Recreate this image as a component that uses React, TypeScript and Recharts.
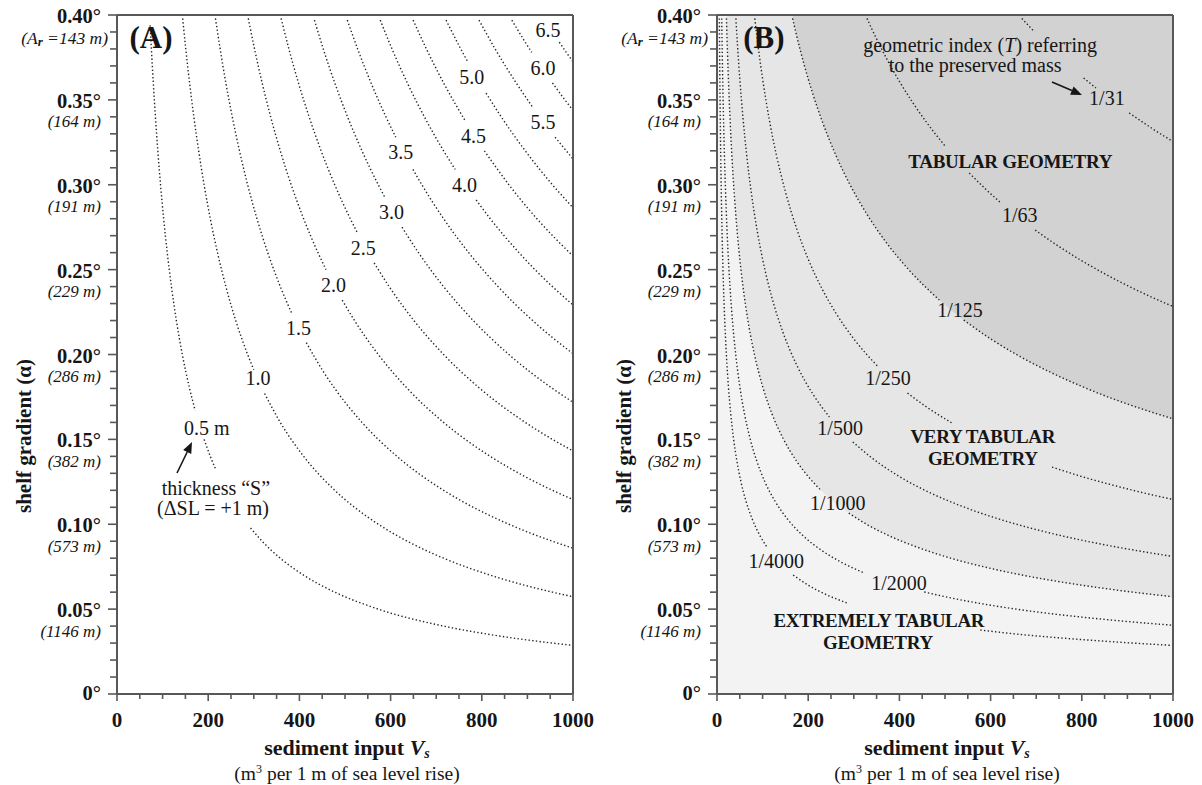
import React from "react";
import {
  Area,
  CartesianGrid,
  ComposedChart,
  Line,
  ReferenceLine,
  Scatter,
  XAxis,
  YAxis,
} from "recharts";

type Pt = [number, number] | null;

const SERIF = "'Liberation Serif', 'DejaVu Serif', serif";
const INK = "#161616";
const AXIS = "#585858";
const DOTS = "#262626";

// ---- axes ----
const xTicks = [
  0, 50, 100, 150, 200, 250, 300, 350, 400, 450, 500, 550, 600, 650, 700, 750,
  800, 850, 900, 950, 1000,
];
const xLabelled = [0, 200, 400, 600, 800, 1000];
const yTicks = [
  0, 0.01, 0.02, 0.03, 0.04, 0.05, 0.06, 0.07, 0.08, 0.09, 0.1, 0.11, 0.12,
  0.13, 0.14, 0.15, 0.16, 0.17, 0.18, 0.19, 0.2, 0.21, 0.22, 0.23, 0.24, 0.25,
  0.26, 0.27, 0.28, 0.29, 0.3, 0.31, 0.32, 0.33, 0.34, 0.35, 0.36, 0.37, 0.38,
  0.39, 0.4,
];
const yLabelled = [0, 0.05, 0.1, 0.15, 0.2, 0.25, 0.3, 0.35, 0.4];
const yLabels = ["0°", "0.05°", "0.10°", "0.15°", "0.20°", "0.25°", "0.30°", "0.35°", "0.40°"];
const yMetres = ["", "(1146 m)", "(573 m)", "(382 m)", "(286 m)", "(229 m)", "(191 m)", "(164 m)", "Ar"];

// ---- (A) thickness S contours: [Vs, alpha], null = gap for a label ----
const s05: Pt[] = [[72.7, 0.394], [75.4, 0.38], [79.6, 0.36], [84.3, 0.34], [89.5, 0.32], [95.5, 0.3], [102.3, 0.28], [110.2, 0.26], [119.4, 0.24], [130.2, 0.22], [143.2, 0.2], [159.2, 0.18], [171.5, 0.167], null, [191.0, 0.15], [204.6, 0.14], [217.0, 0.132], null, [292.9, 0.0978], [318.3, 0.09], [358.1, 0.08], [409.3, 0.07], [477.5, 0.06], [573.0, 0.05], [716.2, 0.04], [818.5, 0.035], [955.0, 0.03], [1000, 0.02865]];
const s10: Pt[] = [[144.0, 0.398], [150.8, 0.38], [159.2, 0.36], [168.5, 0.34], [179.1, 0.32], [191.0, 0.3], [204.6, 0.28], [220.4, 0.26], [238.7, 0.24], [260.4, 0.22], [286.5, 0.2], [300.0, 0.191], null, [323.7, 0.177], [358.1, 0.16], [409.3, 0.14], [477.5, 0.12], [520.9, 0.11], [573.0, 0.1], [636.6, 0.09], [716.2, 0.08], [818.5, 0.07], [954.9, 0.06], [1000, 0.0573]];
const s15: Pt[] = [[215.9, 0.398], [226.2, 0.38], [238.7, 0.36], [252.8, 0.34], [268.6, 0.32], [286.5, 0.3], [306.9, 0.28], [330.6, 0.26], [358.1, 0.24], [383.7, 0.224], null, [415.2, 0.207], [452.3, 0.19], [477.5, 0.18], [537.2, 0.16], [613.9, 0.14], [716.2, 0.12], [781.3, 0.11], [859.4, 0.1], [954.9, 0.09], [1000, 0.0859]];
const s20: Pt[] = [[287.9, 0.398], [301.6, 0.38], [318.3, 0.36], [337.0, 0.34], [358.1, 0.32], [382.0, 0.3], [409.3, 0.28], [440.7, 0.26], [458.4, 0.25], null, [493.9, 0.232], [520.9, 0.22], [573.0, 0.2], [636.6, 0.18], [716.2, 0.16], [818.5, 0.14], [881.5, 0.13], [954.9, 0.12], [1000, 0.1146]];
const s25: Pt[] = [[359.9, 0.398], [377.0, 0.38], [397.9, 0.36], [421.3, 0.34], [447.6, 0.32], [477.5, 0.3], [511.6, 0.28], [526.6, 0.272], null, [563.9, 0.254], [596.8, 0.24], [651.1, 0.22], [716.2, 0.2], [795.8, 0.18], [895.3, 0.16], [954.9, 0.15], [1000, 0.1432]];
const s30: Pt[] = [[433.0, 0.397], [452.3, 0.38], [477.5, 0.36], [505.6, 0.34], [537.2, 0.32], [573.0, 0.3], [586.6, 0.293], null, [625.0, 0.275], [661.1, 0.26], [716.2, 0.24], [781.3, 0.22], [859.4, 0.2], [954.9, 0.18], [1000, 0.1719]];
const s35: Pt[] = [[505.1, 0.397], [527.7, 0.38], [557.1, 0.36], [589.8, 0.34], [611.4, 0.328], null, [649.0, 0.309], [668.5, 0.3], [716.2, 0.28], [771.3, 0.26], [835.6, 0.24], [911.5, 0.22], [954.9, 0.21], [1000, 0.2005]];
const s40: Pt[] = [[577.3, 0.397], [603.1, 0.38], [636.6, 0.36], [674.1, 0.34], [716.2, 0.32], [741.7, 0.309], null, [787.6, 0.291], [818.5, 0.28], [881.5, 0.26], [954.9, 0.24], [1000, 0.2292]];
const s45: Pt[] = [[649.4, 0.397], [678.5, 0.38], [716.2, 0.36], [762.8, 0.338], null, [805.7, 0.32], [859.4, 0.3], [920.8, 0.28], [1000, 0.258]];
const s50: Pt[] = [[721.6, 0.397], [753.9, 0.38], [768.0, 0.373], null, [809.3, 0.354], [842.6, 0.34], [895.3, 0.32], [954.9, 0.3], [1000, 0.2865]];
const s55: Pt[] = [[793.8, 0.397], [829.3, 0.38], [875.4, 0.36], [910.8, 0.346], null, [960.7, 0.328], [1000, 0.3152]];
const s60: Pt[] = [[865.9, 0.397], [892.9, 0.385], [909.5, 0.378], null, [955.0, 0.36], [982.2, 0.35], [1000, 0.3438]];
const s65: Pt[] = [[969.9, 0.384], [985.3, 0.378], [1000, 0.3725]];
const thicknessCurves = [s05, s10, s15, s20, s25, s30, s35, s40, s45, s50, s55, s60, s65];

const thicknessLabels = [
  { x: 197, y: 0.1567, text: "0.5 m" },
  { x: 309, y: 0.1862, text: "1.0" },
  { x: 398, y: 0.2156, text: "1.5" },
  { x: 475, y: 0.241, text: "2.0" },
  { x: 540, y: 0.263, text: "2.5" },
  { x: 602, y: 0.284, text: "3.0" },
  { x: 622, y: 0.319, text: "3.5" },
  { x: 762, y: 0.3, text: "4.0" },
  { x: 782, y: 0.329, text: "4.5" },
  { x: 778, y: 0.3635, text: "5.0" },
  { x: 934, y: 0.337, text: "5.5" },
  { x: 934, y: 0.369, text: "6.0" },
  { x: 945, y: 0.391, text: "6.5" },
];
const thicknessNote = [
  { x: 217, y: 0.1214, text: "thickness “S”" },
  { x: 210.5, y: 0.1096, text: "(ΔSL = +1 m)" },
];
const thicknessArrow = [{ x: 131.6, y: 0.1302 }, { x: 164.5, y: 0.1484 }];
const tagA = [{ x: 74.6, y: 0.387, text: "(A)" }];

// ---- (B) geometric index T contours ----
const t31: Pt[] = [[668.6, 0.398], [682, 0.3941], [696.3, 0.39], null, [804, 0.3629], [831, 0.357], null, [904, 0.3423], [950, 0.3339], [1000, 0.3254]];
const t63: Pt[] = [[329, 0.398], [340, 0.3915], [360, 0.3805], [380, 0.3703], [400, 0.3609], [430, 0.3481], [460, 0.3366], [502, 0.3222], null, [553.2, 0.3069], [590, 0.2972], [623, 0.2892], null, [697.7, 0.2733], [750, 0.2636], [800, 0.2552], [850, 0.2476], [900, 0.2406], [950, 0.2342], [1000, 0.2283]];
const t125: Pt[] = [[165.8, 0.398], [175, 0.3874], [190, 0.3718], [210, 0.3536], [230, 0.3379], [260, 0.3178], [290, 0.3009], [330, 0.2821], [370, 0.2664], [420, 0.2501], [487.5, 0.2321], null, [541.1, 0.2203], [600, 0.2092], [660, 0.1995], [730, 0.1897], [800, 0.1812], [870, 0.1737], [940, 0.1672], [1000, 0.1621]];
const t250: Pt[] = [[82.9, 0.398], [90, 0.382], [100, 0.3624], [115, 0.3379], [130, 0.3178], [150, 0.2959], [175, 0.2739], [200, 0.2562], [230, 0.2389], [260, 0.2247], [300, 0.2092], [354, 0.1926], null, [417.7, 0.1773], [460, 0.169], [515.5, 0.1596], null, [734.6, 0.1337], [800, 0.1281], [870, 0.1229], [940, 0.1182], [1000, 0.1146]];
const t500: Pt[] = [[41.4, 0.398], [45, 0.382], [50, 0.3624], [57, 0.3394], [65, 0.3178], [75, 0.2959], [88, 0.2731], [100, 0.2562], [120, 0.2339], [145, 0.2128], [175, 0.1937], [210, 0.1768], [246.5, 0.1632], null, [297.7, 0.1485], [340, 0.139], [400, 0.1281], [470, 0.1182], [550, 0.1093], [640, 0.1013], [740, 0.0942], [860, 0.0874], [1000, 0.081]];
const t1000: Pt[] = [[20.7, 0.398], [23, 0.3778], [26, 0.3553], [30, 0.3308], [35, 0.3063], [41, 0.283], [48, 0.2615], [57, 0.24], [68, 0.2197], [82, 0.2001], [100, 0.1812], [120, 0.1654], [145, 0.1505], [175, 0.137], [200, 0.1281], [227.2, 0.1202], null, [288.9, 0.1066], [330, 0.0997], [380, 0.0929], [440, 0.0864], [510, 0.0802], [600, 0.074], [700, 0.0685], [800, 0.0641], [900, 0.0604], [1000, 0.0573]];
const t2000: Pt[] = [[10.36, 0.398], [11.5, 0.3778], [13, 0.3553], [15, 0.3308], [17.5, 0.3063], [20.5, 0.283], [24, 0.2615], [28.5, 0.24], [34, 0.2197], [41, 0.2001], [50, 0.1812], [60, 0.1654], [72, 0.151], [87, 0.1374], [105, 0.125], [127, 0.1137], [155, 0.1029], [190, 0.0929], [230, 0.0845], [275, 0.0773], [322.9, 0.0713], null, [454.5, 0.0601], [520, 0.0562], [600, 0.0523], [700, 0.0484], [800, 0.0453], [900, 0.0427], [1000, 0.0405]];
const t4000: Pt[] = [[5.18, 0.398], [5.75, 0.3778], [6.5, 0.3553], [7.5, 0.3308], [8.75, 0.3063], [10.25, 0.283], [12, 0.2615], [14.25, 0.24], [17, 0.2197], [20.5, 0.2001], [25, 0.1812], [30, 0.1654], [36, 0.151], [43.5, 0.1374], [52.5, 0.125], [63.5, 0.1137], [77.5, 0.1029], [95, 0.0929], [109.4, 0.0866], null, [167, 0.0701], [200, 0.0641], [240, 0.0585], [285.6, 0.0536], null, [577.4, 0.0377], [650, 0.0355], [750, 0.0331], [850, 0.0311], [1000, 0.0286]];
const indexCurves = [t31, t63, t125, t250, t500, t1000, t2000, t4000];

const indexLabels = [
  { x: 855, y: 0.351, text: "1/31" },
  { x: 664, y: 0.2822, text: "1/63" },
  { x: 533, y: 0.2262, text: "1/125" },
  { x: 375, y: 0.186, text: "1/250" },
  { x: 270, y: 0.1567, text: "1/500" },
  { x: 265, y: 0.1125, text: "1/1000" },
  { x: 399, y: 0.0654, text: "1/2000" },
  { x: 130, y: 0.0783, text: "1/4000" },
];
const indexNote = [
  { x: 577, y: 0.3823, text: "geometric index (*T*) referring" },
  { x: 566, y: 0.3706, text: "to the preserved mass" },
];
const geometryZones = [
  { x: 643, y: 0.314, text: "TABULAR GEOMETRY" },
  { x: 583, y: 0.152, text: "VERY TABULAR" },
  { x: 583, y: 0.139, text: "GEOMETRY" },
  { x: 355, y: 0.0436, text: "EXTREMELY TABULAR" },
  { x: 353, y: 0.0306, text: "GEOMETRY" },
];
const indexArrow = [{ x: 734.6, y: 0.3605 }, { x: 800.4, y: 0.3529 }];
const tagB = [{ x: 103, y: 0.387, text: "(B)" }];

// ---- helpers ----
const rows = (pts: Pt[]) =>
  pts.map((p, i) =>
    p ? { x: p[0], y: p[1] } : { x: (pts[i - 1] as [number, number])[0], y: null }
  );
const solid = (pts: Pt[]) =>
  pts.filter((p): p is [number, number] => p !== null).map((p) => ({ x: p[0], y: p[1] }));

const richText = (s: string) =>
  s.split("*").map((part, i) =>
    i % 2 ? (
      <tspan key={i} fontStyle="italic">{part}</tspan>
    ) : (
      <tspan key={i}>{part}</tspan>
    )
  );

const textShape = (size: number, weight: string = "normal", spacing = 0) => (props: any) => (
  <text
    x={props.cx}
    y={props.cy}
    textAnchor="middle"
    dominantBaseline="central"
    fontFamily={SERIF}
    fontSize={size}
    fontWeight={weight}
    letterSpacing={spacing}
    fill={INK}
  >
    {richText(props.payload.text)}
  </text>
);

const arrowShape = (p: any) => {
  const { x1, y1, x2, y2 } = p;
  const dx = x2 - x1;
  const dy = y2 - y1;
  const len = Math.hypot(dx, dy) || 1;
  const ux = dx / len;
  const uy = dy / len;
  const hl = 11;
  const hw = 4.5;
  const bx = x2 - ux * hl;
  const by = y2 - uy * hl;
  return (
    <g>
      <line x1={x1} y1={y1} x2={bx} y2={by} stroke={INK} strokeWidth={1.6} />
      <polygon
        points={`${x2},${y2} ${bx - uy * hw},${by + ux * hw} ${bx + uy * hw},${by - ux * hw}`}
        fill={INK}
      />
    </g>
  );
};

const XTick = (props: any) => {
  const { x, y, payload } = props;
  const major = xLabelled.includes(payload.value);
  return (
    <g>
      <line x1={x} x2={x} y1={y} y2={y + (major ? 7 : 5)} stroke={AXIS} strokeWidth={1.6} />
      {major && (
        <text
          x={x}
          y={y + 26}
          textAnchor="middle"
          dominantBaseline="central"
          fontFamily={SERIF}
          fontWeight="bold"
          fontSize={21}
          fill={INK}
        >
          {payload.value}
        </text>
      )}
    </g>
  );
};

const YTick = (props: any) => {
  const { x, y, payload } = props;
  const idx = yLabelled.findIndex((v) => Math.abs(v - payload.value) < 1e-6);
  const major = idx >= 0;
  const sub = major ? yMetres[idx] : "";
  return (
    <g>
      <line x1={x - (major ? 9 : 7)} x2={x} y1={y} y2={y} stroke={AXIS} strokeWidth={1.6} />
      {major && (
        <text
          x={x - 16}
          y={y + (idx === 0 ? -1 : 1)}
          textAnchor="end"
          dominantBaseline="central"
          fontFamily={SERIF}
          fontWeight="bold"
          fontSize={20.5}
          fill={INK}
        >
          {yLabels[idx]}
        </text>
      )}
      {sub === "Ar" && (
        <text x={x - 9} y={y + 23} textAnchor="end" dominantBaseline="central" fontFamily={SERIF} fontStyle="italic" fontSize={17.5} fill={INK}>
          <tspan>(A</tspan>
          <tspan dy={3} fontSize={13} fontWeight="bold">r</tspan>
          <tspan dy={-3}> =143 m)</tspan>
        </text>
      )}
      {sub && sub !== "Ar" && (
        <text x={x - 16} y={y + 22} textAnchor="end" dominantBaseline="central" fontFamily={SERIF} fontStyle="italic" fontSize={17} fill={INK}>
          {sub}
        </text>
      )}
    </g>
  );
};

const renderXTitle = (props: any) => {
  const vb = props && props.viewBox && props.viewBox.width ? props.viewBox : { x: 117, y: 694, width: 456, height: 30 };
  const cx = vb.x + vb.width / 2 + 2;
  const top = vb.y;
  return (
    <g>
      <text x={cx} y={top + 61} textAnchor="middle" fontFamily={SERIF} fontWeight="bold" fontSize={22} fill={INK}>
        sediment input <tspan fontStyle="italic">V</tspan>
        <tspan fontStyle="italic" fontSize={14} dy={3}>s</tspan>
      </text>
      <text x={cx} y={top + 86} textAnchor="middle" fontFamily={SERIF} fontSize={19.5} fill={INK}>
        (m<tspan fontSize={12} dy={-7}>3</tspan>
        <tspan dy={7}> per 1 m of sea level rise)</tspan>
      </text>
    </g>
  );
};

const renderYTitle = (props: any) => {
  const vb = props && props.viewBox && props.viewBox.height ? props.viewBox : { x: 57, y: 15, width: 60, height: 679 };
  const cx = vb.x - 33;
  const cy = vb.y + 421;
  return (
    <text
      x={cx}
      y={cy}
      transform={`rotate(-90 ${cx} ${cy})`}
      textAnchor="middle"
      dominantBaseline="central"
      fontFamily={SERIF}
      fontWeight="bold"
      fontSize={21}
      fill={INK}
    >
      shelf gradient (α)
    </text>
  );
};

const MARGIN = { top: 15, right: 27, bottom: 61, left: 57 };

const axes = () => [
  <XAxis
    key="x"
    type="number"
    dataKey="x"
    domain={[0, 1000]}
    ticks={xTicks}
    interval={0}
    height={30}
    tickSize={0}
    tickMargin={0}
    tickLine={false}
    tick={<XTick />}
    axisLine={{ stroke: AXIS, strokeWidth: 2 }}
    label={renderXTitle}
  />,
  <YAxis
    key="y"
    type="number"
    dataKey="y"
    domain={[0, 0.4]}
    ticks={yTicks}
    interval={0}
    width={60}
    tickSize={0}
    tickMargin={0}
    tickLine={false}
    tick={<YTick />}
    axisLine={{ stroke: AXIS, strokeWidth: 2 }}
    label={renderYTitle}
  />,
];

const frame = () => [
  <ReferenceLine key="top" y={0.4} stroke={AXIS} strokeWidth={2} />,
  <ReferenceLine key="right" x={1000} stroke={AXIS} strokeWidth={2} />,
];

const dotted = (pts: Pt[], key: string) => (
  <Line
    key={key}
    data={rows(pts)}
    dataKey="y"
    type="monotone"
    stroke={DOTS}
    strokeWidth={1.4}
    strokeDasharray="1.4 2.3"
    dot={false}
    activeDot={false}
    connectNulls={false}
    legendType="none"
    isAnimationActive={false}
  />
);

function ThicknessPanel() {
  return (
    <ComposedChart width={600} height={785} margin={MARGIN}>
      {axes()}
      {thicknessCurves.map((c, i) => dotted(c, `s${i}`))}
      <Scatter data={thicknessLabels} shape={textShape(20)} isAnimationActive={false} legendType="none" />
      <Scatter data={thicknessNote} shape={textShape(20)} isAnimationActive={false} legendType="none" />
      <Scatter data={tagA} shape={textShape(31, "bold")} isAnimationActive={false} legendType="none" />
      <ReferenceLine segment={thicknessArrow} shape={arrowShape} />
      {frame()}
    </ComposedChart>
  );
}

function IndexPanel() {
  return (
    <ComposedChart width={600} height={785} margin={MARGIN}>
      <CartesianGrid horizontal={false} vertical={false} fill="#f3f3f3" fillOpacity={1} />
      {axes()}
      <Area
        data={solid(t1000)}
        dataKey="y"
        type="monotone"
        baseValue={0.4}
        stroke="none"
        fill="#e6e6e6"
        fillOpacity={1}
        dot={false}
        activeDot={false}
        legendType="none"
        isAnimationActive={false}
      />
      <Area
        data={solid(t125)}
        dataKey="y"
        type="monotone"
        baseValue={0.4}
        stroke="none"
        fill="#d2d2d2"
        fillOpacity={1}
        dot={false}
        activeDot={false}
        legendType="none"
        isAnimationActive={false}
      />
      {indexCurves.map((c, i) => dotted(c, `t${i}`))}
      <Scatter data={indexLabels} shape={textShape(20)} isAnimationActive={false} legendType="none" />
      <Scatter data={indexNote} shape={textShape(20)} isAnimationActive={false} legendType="none" />
      <Scatter data={geometryZones} shape={textShape(19, "bold", -0.3)} isAnimationActive={false} legendType="none" />
      <Scatter data={tagB} shape={textShape(31, "bold")} isAnimationActive={false} legendType="none" />
      <ReferenceLine segment={indexArrow} shape={arrowShape} />
      {frame()}
    </ComposedChart>
  );
}

export default function App() {
  return (
    <div
      style={{
        position: "absolute",
        left: 0,
        top: 0,
        width: 1202,
        height: 785,
        background: "#fff",
        fontFamily: SERIF,
      }}
    >
      <div style={{ position: "absolute", left: 0, top: 0 }}>
        <ThicknessPanel />
      </div>
      <div style={{ position: "absolute", left: 600, top: 0 }}>
        <IndexPanel />
      </div>
    </div>
  );
}
